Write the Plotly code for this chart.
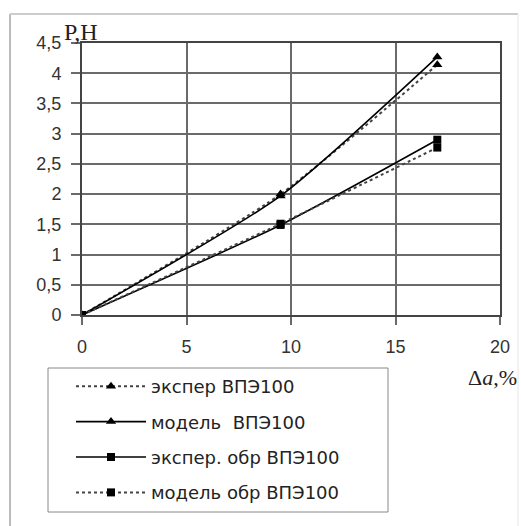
import plotly.graph_objects as go

x_vals = [0, 9.5, 17]
exp_vpe = [0, 2.0, 4.14]
mod_vpe = [0, 1.97, 4.27]
exp_obr = [0, 1.49, 2.9]
mod_obr = [0, 1.51, 2.77]

names = ["экспер ВПЭ100", "модель  ВПЭ100", "экспер. обр ВПЭ100", "модель обр ВПЭ100"]
series = [exp_vpe, mod_vpe, exp_obr, mod_obr]
dashes = ["dot", "solid", "solid", "dot"]
symbols = ["triangle-up", "triangle-up", "square", "square"]
colors = ["#444444", "#000000", "#000000", "#444444"]
widths = [2, 1.6, 1.6, 2]
msizes = [9, 9, 8, 8]

fig = go.Figure()
for i in range(4):
    fig.add_trace(go.Scatter(
        x=x_vals, y=series[i], name=names[i], mode="lines+markers",
        line=dict(color=colors[i], width=widths[i], dash=dashes[i], shape="spline", smoothing=0.6),
        marker=dict(symbol=symbols[i], size=msizes[i], color="#000000"),
        legendgroup=str(i),
    ))

W, H = 521, 526
L, R, T, B = 82, 21, 43, 211
pw, ph = W - L - R, H - T - B


def px(x):
    return (x - L) / pw


def py(y):
    return (H - B - y) / ph


grid_col = "#6a6a6a"
fig.update_layout(
    width=W, height=H,
    margin=dict(l=L, r=R, t=T, b=B),
    paper_bgcolor="white", plot_bgcolor="white",
    separators=", ",
    font=dict(family="Liberation Sans, Arial", size=17, color="#333333"),
    xaxis=dict(range=[0, 20], dtick=5, showgrid=True, gridcolor=grid_col, gridwidth=1.5,
               zeroline=False, showline=True, linecolor="#444444", linewidth=2, mirror=True,
               ticks="outside", ticklen=8, tickcolor=grid_col, tickwidth=1.5,
               ticklabelstandoff=6,
               tickfont=dict(size=18, color="#333333")),
    yaxis=dict(range=[0, 4.5], dtick=0.5, showgrid=True, gridcolor=grid_col, gridwidth=1.5,
               zeroline=False, showline=True, linecolor="#444444", linewidth=2, mirror=True,
               ticks="outside", ticklen=9, tickcolor=grid_col, tickwidth=1.5,
               ticklabelstandoff=6,
               tickfont=dict(size=18, color="#333333")),
    showlegend=True,
    legend=dict(x=px(71), y=py(368), xanchor="left", yanchor="top",
                bgcolor="rgba(0,0,0,0)", borderwidth=0,
                font=dict(family="DejaVu Sans", size=18, color="#222222"),
                itemwidth=70,
                traceorder="grouped", tracegroupgap=9),
    shapes=[
        dict(type="rect", xref="paper", yref="paper", x0=px(48), x1=px(388), y0=py(368), y1=py(512),
             line=dict(color="#888888", width=1), layer="below"),
        dict(type="line", xref="paper", yref="paper", x0=px(10), x1=px(10), y0=py(14), y1=py(540),
             line=dict(color="#bbbbbb", width=2)),
        dict(type="line", xref="paper", yref="paper", x0=px(10), x1=px(518), y0=py(14), y1=py(14),
             line=dict(color="#cccccc", width=2)),
        dict(type="line", xref="paper", yref="paper", x0=px(518), x1=px(518), y0=py(14), y1=py(540),
             line=dict(color="#e6e6e6", width=1)),
    ],
    annotations=[
        dict(text="Р,Н", xref="paper", yref="paper", x=px(62), y=py(47), xanchor="left", yanchor="bottom",
             showarrow=False, font=dict(family="Liberation Serif, Times New Roman", size=24, color="#222222")),
        dict(text="Δ<i>a</i>,%", xref="paper", yref="paper", x=px(519), y=py(377), xanchor="right", yanchor="middle",
             showarrow=False, font=dict(family="Liberation Serif, Times New Roman", size=22, color="#222222")),
    ],
)
fig.write_html("out.html", config={"displayModeBar": False},
               post_script="document.body.style.margin='0';")
